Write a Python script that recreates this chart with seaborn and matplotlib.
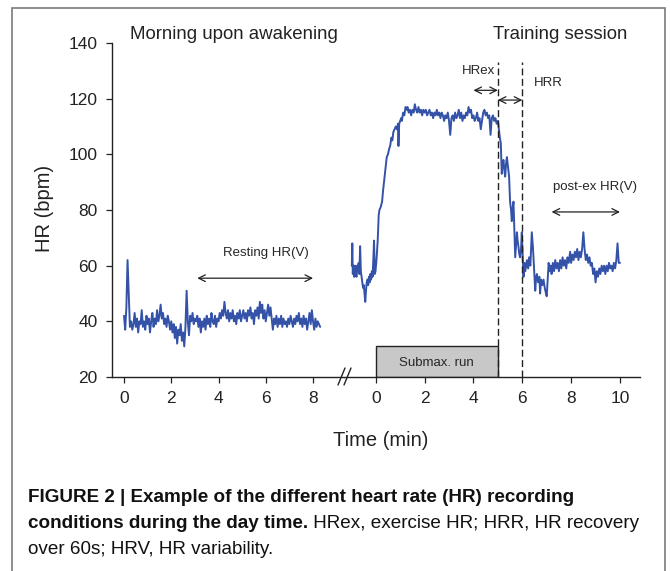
import numpy as np
import matplotlib
matplotlib.use('Agg')
import matplotlib.pyplot as plt
from matplotlib import font_manager
from matplotlib.patches import Rectangle
from matplotlib.lines import Line2D
import seaborn as sns

# --- morning recording upon awakening (one value every 3 s, 0 .. 8.3 min)
rest_time = np.round(np.arange(0, 8.31, 0.05), 2)
rest_hr = [
    42, 37, 45, 62, 50, 38, 40, 37, 39, 43, 38, 41, 36, 40, 39, 44, 38, 40, 37, 42,
    39, 41, 36, 40, 43, 38, 41, 39, 44, 40, 42, 46, 41, 43, 39, 41, 38, 42, 40, 37,
    40, 36, 39, 34, 38, 32, 37, 35, 39, 33, 36, 31, 38, 51, 40, 35, 42, 40, 43, 39,
    41, 40, 42, 38, 41, 36, 40, 38, 41, 37, 42, 39, 41, 38, 43, 40, 39, 42, 38, 41,
    40, 43, 41, 44, 42, 47, 43, 41, 44, 40, 43, 41, 44, 40, 42, 39, 43, 41, 44, 40,
    42, 44, 41, 43, 40, 44, 42, 45, 41, 43, 39, 44, 42, 45, 41, 47, 43, 46, 41, 44,
    40, 43, 46, 42, 45, 41, 37, 41, 39, 42, 38, 41, 39, 42, 38, 41, 39, 40, 38, 41,
    39, 42, 40, 38, 41, 39, 42, 40, 43, 39, 41, 38, 42, 39, 41, 37, 40, 43, 39, 44,
    40, 37, 41, 38, 40, 39, 38,
]

# --- training session (time relative to start of the submaximal run)
train_time = [
    -0.98, -0.96, -0.94, -0.91, -0.88, -0.85, -0.82, -0.79, -0.76, -0.73,
    -0.70, -0.67, -0.64, -0.61, -0.58, -0.55, -0.52, -0.49, -0.46, -0.43,
    -0.40, -0.37, -0.34, -0.31, -0.28, -0.25, -0.22, -0.19, -0.16, -0.13,
    -0.10, -0.07, -0.04, -0.01,
    0.03, 0.08, 0.12, 0.15, 0.20, 0.26, 0.30, 0.35, 0.40, 0.45, 0.50, 0.55,
    0.59, 0.64, 0.68, 0.72, 0.77, 0.82, 0.87, 0.91, 0.93, 0.96, 1.00, 1.04,
    1.07, 1.12, 1.17, 1.22, 1.27,
    1.30, 1.35, 1.40, 1.45, 1.50, 1.55, 1.60, 1.65, 1.70, 1.75, 1.80, 1.85,
    1.90, 1.95, 2.00, 2.05, 2.10, 2.15, 2.20, 2.25, 2.30, 2.35, 2.40, 2.45,
    2.50, 2.55, 2.60, 2.65, 2.70, 2.75, 2.80, 2.85, 2.90, 2.95, 3.00, 3.05,
    3.10, 3.15, 3.20, 3.25, 3.30, 3.35, 3.40, 3.45, 3.50, 3.55, 3.60, 3.65,
    3.70, 3.75, 3.80, 3.85, 3.90, 3.95, 4.00, 4.05, 4.10, 4.15, 4.20, 4.25,
    4.30, 4.35, 4.40, 4.45, 4.50, 4.55, 4.60, 4.65, 4.70, 4.75, 4.80, 4.85,
    4.90, 4.95, 5.00,
    5.03, 5.08, 5.12, 5.16, 5.20, 5.23, 5.27, 5.30, 5.34, 5.37, 5.42, 5.46,
    5.50, 5.54, 5.57, 5.61, 5.64, 5.68, 5.71, 5.75, 5.78, 5.81, 5.84, 5.88,
    5.91, 5.95, 5.98, 6.02, 6.05, 6.09, 6.12, 6.16, 6.19, 6.24, 6.28, 6.33,
    6.39, 6.44, 6.49, 6.53, 6.57, 6.60, 6.65, 6.70, 6.73, 6.77, 6.82, 6.87,
    6.92, 6.97, 7.00, 7.04, 7.08, 7.12, 7.16, 7.20, 7.25, 7.30, 7.35, 7.40,
    7.45, 7.50, 7.55, 7.60, 7.65, 7.70, 7.75, 7.80, 7.85, 7.90, 7.96, 8.00,
    8.05, 8.10, 8.15, 8.20, 8.25, 8.30, 8.35, 8.40, 8.45, 8.50, 8.55, 8.60,
    8.65, 8.70, 8.75, 8.80, 8.85, 8.90, 8.95, 9.00, 9.05, 9.10, 9.15, 9.20,
    9.25, 9.30, 9.35, 9.40, 9.45, 9.50, 9.55, 9.60, 9.65, 9.70, 9.75, 9.80,
    9.85, 9.90, 9.95, 10.00,
]
train_hr = [
    60, 68, 57, 60, 56, 60, 59, 56, 60, 58,
    61, 57, 67, 58, 56, 54, 52, 53, 50, 47,
    51, 54, 55, 53, 56, 54, 57, 55, 58, 56,
    62, 69, 57, 58,
    62, 69, 78, 80, 81, 83, 87, 91, 95, 99, 100, 102,
    103, 106, 105, 108, 109, 110, 109, 111, 103, 111, 112, 113,
    112, 115, 114, 117, 116,
    117, 115, 116, 114, 116, 115, 118, 116, 115, 117, 115, 116,
    114, 116, 115, 116, 114, 115, 116, 114, 115, 113, 115, 114,
    116, 114, 115, 113, 115, 114, 112, 114, 113, 115, 112, 107,
    113, 114, 112, 115, 113, 114, 116, 113, 115, 112, 114, 113,
    115, 114, 117, 115, 116, 113, 114, 112, 113, 115, 112, 113,
    109, 112, 115, 116, 114, 115, 113, 114, 107, 113, 114, 112,
    113, 111, 112,
    110, 106, 104, 93, 97, 98, 94, 92, 97, 99, 95, 92,
    83, 80, 76, 81, 83, 72, 63, 68, 72, 69, 67, 64,
    63, 66, 72, 63, 56, 61, 58, 60, 62, 59, 63, 60,
    72, 66, 58, 51, 56, 57, 54, 56, 50, 55, 53, 55,
    52, 50, 49, 55, 61, 58, 60, 57, 61, 58, 62, 59,
    61, 58, 62, 59, 63, 60, 62, 59, 63, 61, 65, 61,
    64, 62, 65, 63, 66, 62, 65, 63, 66, 72, 66, 62,
    64, 61, 63, 60, 61, 57, 59, 54, 58, 56, 59, 57,
    60, 58, 60, 57, 60, 58, 61, 59, 60, 58, 61, 59,
    62, 68, 61, 61,
]

run_start, run_end, run_top = 0, 5, 31
hrex_span = (4, 5)
hrr_span = (5, 6)
rest_span = (3.1, 8)
postex_span = (7.2, 10)

y_ticks = [20, 40, 60, 80, 100, 120, 140]
rest_ticks = [0, 2, 4, 6, 8]
train_ticks = [0, 2, 4, 6, 8, 10]

sns.set_style('ticks')
names = {f.name for f in font_manager.fontManager.ttflist}
narrow = 'Liberation Sans Narrow' in names
plt.rcParams['font.family'] = ['Liberation Sans', 'DejaVu Sans']
cap_family = ['Liberation Sans Narrow', 'Liberation Sans'] if narrow else ['Liberation Sans']
cap_size = 15.5 if narrow else 13.6

W, H = 670, 571
fig = plt.figure(figsize=(W / 100, H / 100), dpi=100)


def fx(px):
    return px / W


def fy(py):
    return 1 - py / H


line_color = '#3352a8'
ink = '#222222'

ax1 = fig.add_axes([fx(112), fy(377), fx(344) - fx(112), fy(43) - fy(377)])
ax2 = fig.add_axes([fx(344), fy(377), fx(640) - fx(344), fy(43) - fy(377)], sharey=ax1)

sns.lineplot(x=rest_time, y=rest_hr, ax=ax1, color=line_color, lw=1.4)
sns.lineplot(x=train_time, y=train_hr, ax=ax2, color=line_color, lw=1.4)

ax1.set_xlim(-0.508, 9.31)
ax2.set_xlim(-1.30, 10.82)
ax1.set_ylim(20, 140)
ax1.set_yticks(y_ticks)
ax1.set_xticks(rest_ticks)
ax2.set_xticks(train_ticks)

for ax in (ax1, ax2):
    ax.set_xlabel('')
    ax.set_ylabel('')
    ax.tick_params(direction='out', length=4, width=0.9, colors=ink,
                   labelsize=12.5, pad=6.4)
    for s in ax.spines.values():
        s.set_color(ink)
        s.set_linewidth(1.0)
sns.despine(ax=ax1)
sns.despine(ax=ax2, left=True)
ax2.tick_params(axis='y', left=False, labelleft=False)

# submaximal run box and phase limits
ax2.add_patch(Rectangle((run_start, 20), run_end - run_start, run_top - 20,
                        facecolor='#c8c8c8', edgecolor=ink, lw=1.0, zorder=1))
ax2.text((run_start + run_end) / 2, 25.2, 'Submax. run', ha='center', va='center', fontsize=9.5)
ax2.vlines([hrr_span[0], hrr_span[1]], 20, 133, colors=ink, linestyles=(0, (5, 2.5)), lw=1.0)

arrow = dict(arrowstyle='<->', color=ink, lw=0.9, shrinkA=0, shrinkB=0, mutation_scale=12)
ax1.annotate('', xy=(rest_span[1], 55.5), xytext=(rest_span[0], 55.5), arrowprops=arrow)
ax1.text(6.0, 64.6, 'Resting HR(V)', ha='center', va='center', fontsize=9.5)
ax2.annotate('', xy=(hrex_span[1], 123), xytext=(hrex_span[0], 123), arrowprops=arrow)
ax2.text(4.88, 130, 'HRex', ha='right', va='center', fontsize=9.5)
ax2.annotate('', xy=(hrr_span[1], 119.5), xytext=(hrr_span[0], 119.5), arrowprops=arrow)
ax2.text(6.48, 125.7, 'HRR', ha='left', va='center', fontsize=9.5)
ax2.annotate('', xy=(postex_span[1], 79.3), xytext=(postex_span[0], 79.3), arrowprops=arrow)
ax2.text(8.97, 88.3, 'post-ex HR(V)', ha='center', va='center', fontsize=9.5)

# axis break marks
for x0 in (338, 344):
    fig.add_artist(Line2D([fx(x0), fx(x0 + 7)], [fy(385), fy(368)],
                          transform=fig.transFigure, color=ink, lw=1.0))

# titles and axis labels
fig.text(fx(130), fy(39.3), 'Morning upon awakening', fontsize=13.4, va='baseline', color=ink)
fig.text(fx(493), fy(39.3), 'Training session', fontsize=13.4, va='baseline', color=ink)
fig.text(fx(381), fy(446), 'Time (min)', fontsize=14.5, ha='center', va='baseline', color=ink)
fig.text(fx(45), fy(208.5), 'HR (bpm)', fontsize=14.5, rotation=90, ha='center', va='center', color=ink)

# frame around the figure panel
fig.add_artist(Rectangle((fx(12), fy(571) - 0.05), fx(665) - fx(12), fy(8) - fy(571) + 0.05,
                         transform=fig.transFigure, fill=False, edgecolor='#7a7a7a', lw=1.2))

# caption
cap = dict(family=cap_family, fontsize=cap_size, va='center', color='#111111')
fig.text(fx(28), fy(497), 'FIGURE 2 | Example of the different heart rate (HR) recording',
         fontweight='bold', **cap)
t2 = fig.text(fx(28), fy(523), 'conditions during the day time.', fontweight='bold', **cap)
renderer = fig.canvas.get_renderer()
bb = t2.get_window_extent(renderer)
fig.text(bb.x1 / fig.bbox.width, fy(523), ' HRex, exercise HR; HRR, HR recovery', **cap)
fig.text(fx(28), fy(549), 'over 60s; HRV, HR variability.', **cap)

fig.savefig('out.png', dpi=100)
